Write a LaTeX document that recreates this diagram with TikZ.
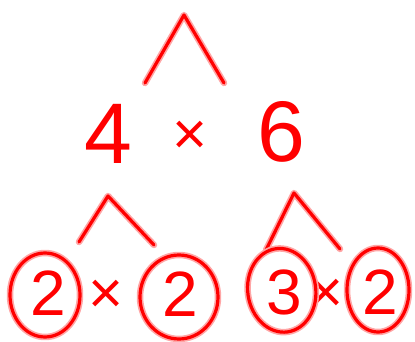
\documentclass[tikz,border=0pt]{standalone}
\usepackage{fontspec}
\setmainfont{Liberation Sans}
\begin{document}
\begin{tikzpicture}[x=1pt,y=-1pt,
 ink/.style={draw=red, line width=3.2pt, line cap=round, line join=round,
   preaction={draw=red!35, line width=6.5pt, line cap=round, line join=round}},
 big/.style={text=red, inner sep=0pt, font=\fontsize{86}{86}\selectfont},
 small/.style={text=red, inner sep=0pt, font=\fontsize{64}{64}\selectfont},
 times/.style={text=red, inner sep=0pt, font=\fontsize{60}{60}\selectfont}
]
\useasboundingbox (0,0) rectangle (415,342);
% top split
\coordinate (t0) at (184,15);
\coordinate (tl) at (145,83);
\coordinate (tr) at (224,83);
\draw[ink] (tl) -- (t0) -- (tr);
% middle row
\node[big] (n4) at (108,134) {4};
\node[times] (x1) at (190,138) {×};
\node[big] (n6) at (281,132) {6};
% left split
\coordinate (l0) at (108,196);
\coordinate (ll) at (79,242);
\coordinate (lr) at (154,245);
\draw[ink] (ll) -- (l0) -- (lr);
% right split
\coordinate (r0) at (294,193);
\coordinate (rl) at (266,250);
\coordinate (rr) at (340,249);
\draw[ink] (rl) -- (r0) -- (rr);
% bottom row
\node[small] (a2) at (48,293) {2};
\node[times] (x2) at (106,297) {×};
\node[small] (b2) at (180,294) {2};
\node[small] (c3) at (284,292) {3};
\node[times] (x3) at (326,296) {×};
\node[small] (d2) at (380,292) {2};
\draw[ink] (a2) ++(-3,2) ellipse [x radius=35, y radius=42];
\draw[ink] (b2) ++(-1,3) ellipse [x radius=39, y radius=42];
\draw[ink, rotate around={8:(c3)}] (c3) ++(-2,-2) ellipse [x radius=34, y radius=42];
\draw[ink] (d2) ++(-2,-2) ellipse [x radius=31, y radius=42];
\end{tikzpicture}
\end{document}
